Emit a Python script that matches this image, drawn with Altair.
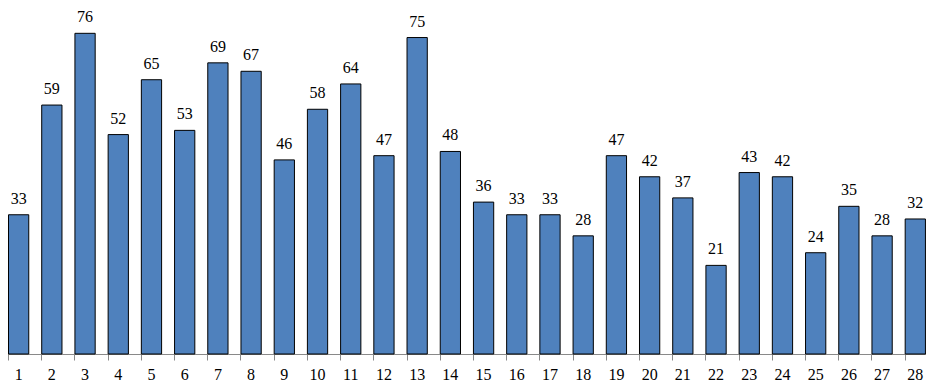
import altair as alt
import pandas as pd

categories = [str(i) for i in range(1, 29)]
values = [33, 59, 76, 52, 65, 53, 69, 67, 46, 58, 64, 47, 75, 48,
          36, 33, 33, 28, 47, 42, 37, 21, 43, 42, 24, 35, 28, 32]

df = pd.DataFrame({"cat": categories, "value": values})

FONT = "Liberation Serif, Times New Roman, DejaVu Serif, serif"
STEP = 33.21
START = -5.97
x_scale = alt.Scale(domain=categories, range=[START, START + STEP * 28],
                    paddingInner=0.39, paddingOuter=0.195)
y_scale = alt.Scale(domain=[0, 82], nice=False)

base = alt.Chart(df)

bars = base.mark_bar(color="#4F81BD", stroke="#000000", strokeWidth=1).encode(
    x=alt.X("cat:N", sort=categories, scale=x_scale,
            axis=alt.Axis(title=None, labelAngle=0, bandPosition=0,
                          tickSize=6, tickColor="#898989",
                          domainColor="#898989", labelFont=FONT,
                          labelFontSize=16, labelColor="#000000", labelPadding=6,
                          labelBaseline="top")),
    y=alt.Y("value:Q", scale=y_scale, axis=None),
)

labels = base.mark_text(font=FONT, fontSize=16, color="#000000",
                        baseline="alphabetic", dy=-11).encode(
    x=alt.X("cat:N", sort=categories, scale=x_scale),
    y=alt.Y("value:Q", scale=y_scale),
    text="value:Q",
)

chart = alt.layer(bars, labels).properties(
    width=918, height=346,
    autosize=alt.AutoSizeParams(type="none"),
    padding={"left": 0, "right": 0, "top": 0, "bottom": 27},
).configure_view(stroke=None).configure_axis(grid=False)

chart.save("out.html", embed_options={"renderer": "svg", "actions": False})
